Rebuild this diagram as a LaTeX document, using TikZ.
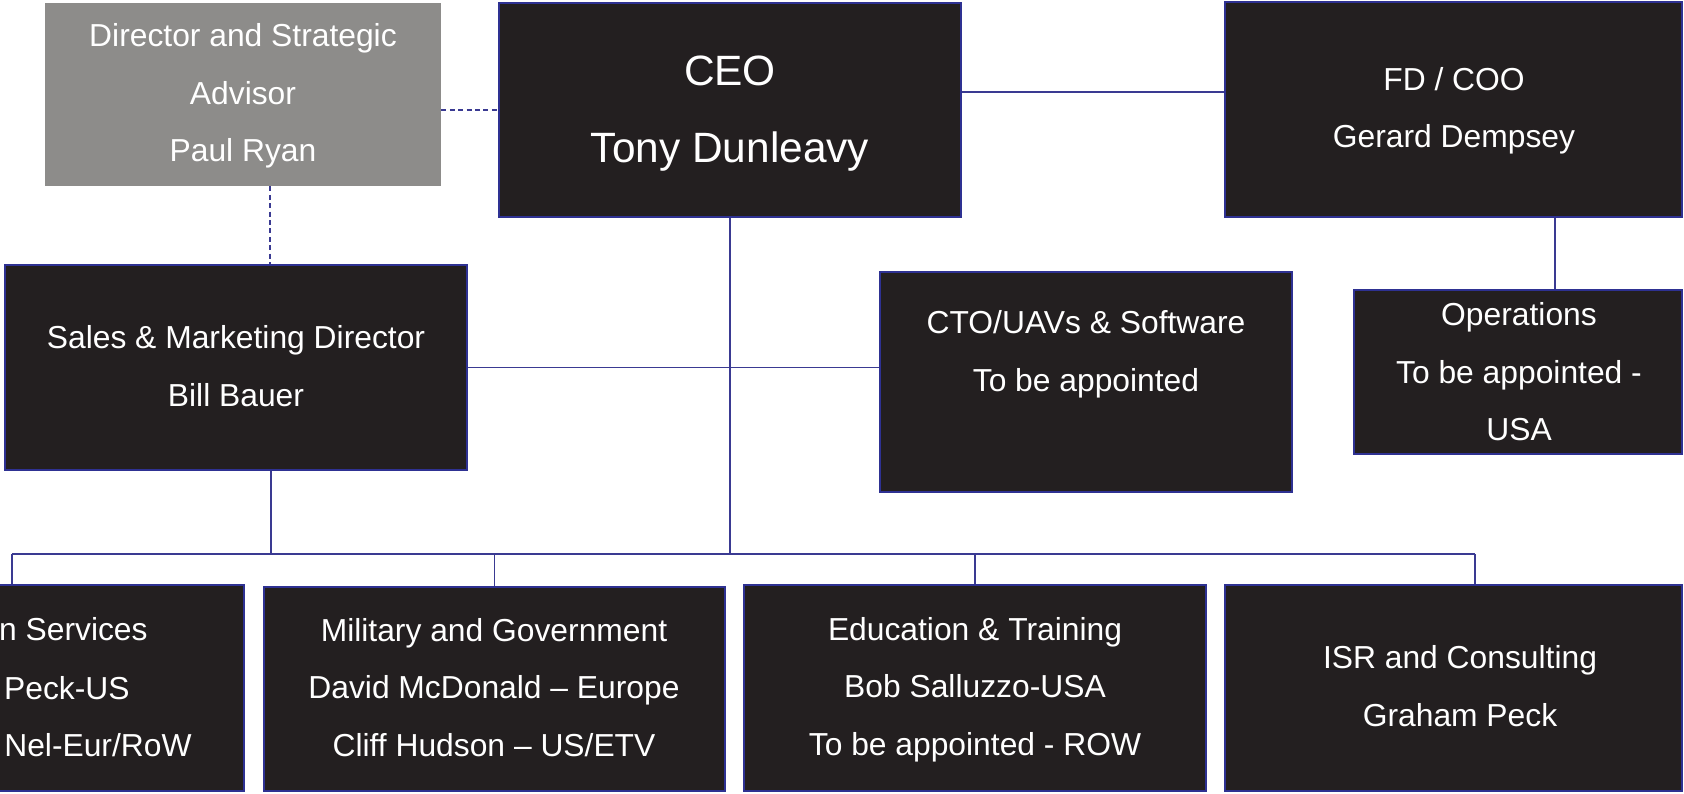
\documentclass[tikz,border=0pt]{standalone}
\usepackage{fontspec}
\setmainfont{Liberation Sans}
\usepackage{tikz}
\usepackage{xcolor}

\definecolor{boxfill}{HTML}{231F20}
\definecolor{boxline}{HTML}{2E3192}
\definecolor{advfill}{HTML}{8D8C8A}
\definecolor{linkline}{HTML}{3A3A92}

\tikzset{
  rolebox/.style 2 args={draw=boxline, line width=1.1pt, fill=boxfill,
    minimum width=#1, minimum height=#2, inner sep=0pt},
  advbox/.style 2 args={fill=advfill, minimum width=#1, minimum height=#2, inner sep=0pt},
  % base anchor sits on the last line
  rolename/.style={text=white, font=\fontsize{15.9}{28.75}\selectfont,
    align=center, anchor=base, inner sep=0pt},
  headname/.style={rolename, font=\fontsize{21.2}{38.5}\selectfont},
  link/.style={draw=linkline, line width=0.6pt},
  advlink/.style={link, dash pattern=on 2.5pt off 1.7pt},
}

\begin{document}
\begin{tikzpicture}[x=0.5pt,y=-0.5pt]
\useasboundingbox (0,0) rectangle (1684,793);

% top row
\node[advbox={198pt}{91.5pt}] (adv) at (243,94.5) {};
\node[rolebox={231pt}{107pt}] (ceo) at (730,110) {};
\node[rolebox={228.5pt}{107.5pt}] (fd) at (1453.5,109.5) {};

% middle row
\node[rolebox={231pt}{102.5pt}] (sales) at (236,367.5) {};
\node[rolebox={206pt}{110pt}] (cto) at (1086,382) {};
\node[rolebox={164pt}{82pt}] (ops) at (1518,372) {};

% bottom row
\node[rolebox={232pt}{103pt}] (svc) at (12,688) {};
\node[rolebox={230.5pt}{102pt}] (mil) at (494.5,689) {};
\node[rolebox={231pt}{103pt}] (edu) at (975,688) {};
\node[rolebox={228.5pt}{103pt}] (isr) at (1453.5,688) {};

% names
\node[rolename] (advtxt) at (243,161.5) {Director and Strategic\\Advisor\\Paul Ryan};
\node[headname] (ceotxt) at (730,162) {CEO\\Tony Dunleavy};
\node[rolename] (fdtxt) at (1454,147.5) {FD / COO\\Gerard Dempsey};
\node[rolename] (salestxt) at (236,406) {Sales \& Marketing Director\\Bill Bauer};
\node[rolename] (ctotxt) at (1086,391) {CTO/UAVs \& Software\\To be appointed};
\node[rolename] (opstxt) at (1519,440.5) {Operations\\To be appointed -\\USA};
\node[rolename, anchor=base east] (svctxta) at (148,640) {n Services};
\node[rolename, anchor=base east] (svctxtb) at (130,699) {Peck-US};
\node[rolename, anchor=base east] (svctxtc) at (192,756) {Nel-Eur/RoW};
\node[rolename] (miltxt) at (494,756) {Military and Government\\David McDonald – Europe\\Cliff Hudson – US/ETV};
\node[rolename] (edutxt) at (975,755) {Education \& Training\\Bob Salluzzo-USA\\To be appointed - ROW};
\node[rolename] (isrtxt) at (1460,726) {ISR and Consulting\\Graham Peck};

% connectors
\coordinate (bus) at (12,554);
\coordinate (busend) at (1475,554);
\coordinate (fdtop) at (0,92);
\coordinate (advdrop) at (270,0);
\coordinate (salesdrop) at (271,0);
\coordinate (opsdrop) at (1555,0);

\draw[link] (fdtop -| ceo.east) -- (fdtop -| fd.west);
\draw[advlink] (adv.east |- ceo.west) -- (ceo.west);
\draw[advlink] (adv.south -| advdrop) -- (sales.north -| advdrop);
\draw[link] (sales.east) -- (sales.east -| cto.west);
\draw[link] (ceo.south) -- (ceo.south |- bus);
\draw[link] (sales.south -| salesdrop) -- (bus -| salesdrop);
\draw[link] (bus) -- (busend);
\draw[link] (bus) -- (bus |- svc.north);
\draw[link] (bus -| mil.north) -- (mil.north);
\draw[link] (bus -| edu.north) -- (edu.north);
\draw[link] (busend) -- (busend |- isr.north);
\draw[link] (fd.south -| opsdrop) -- (ops.north -| opsdrop);

\end{tikzpicture}
\end{document}
